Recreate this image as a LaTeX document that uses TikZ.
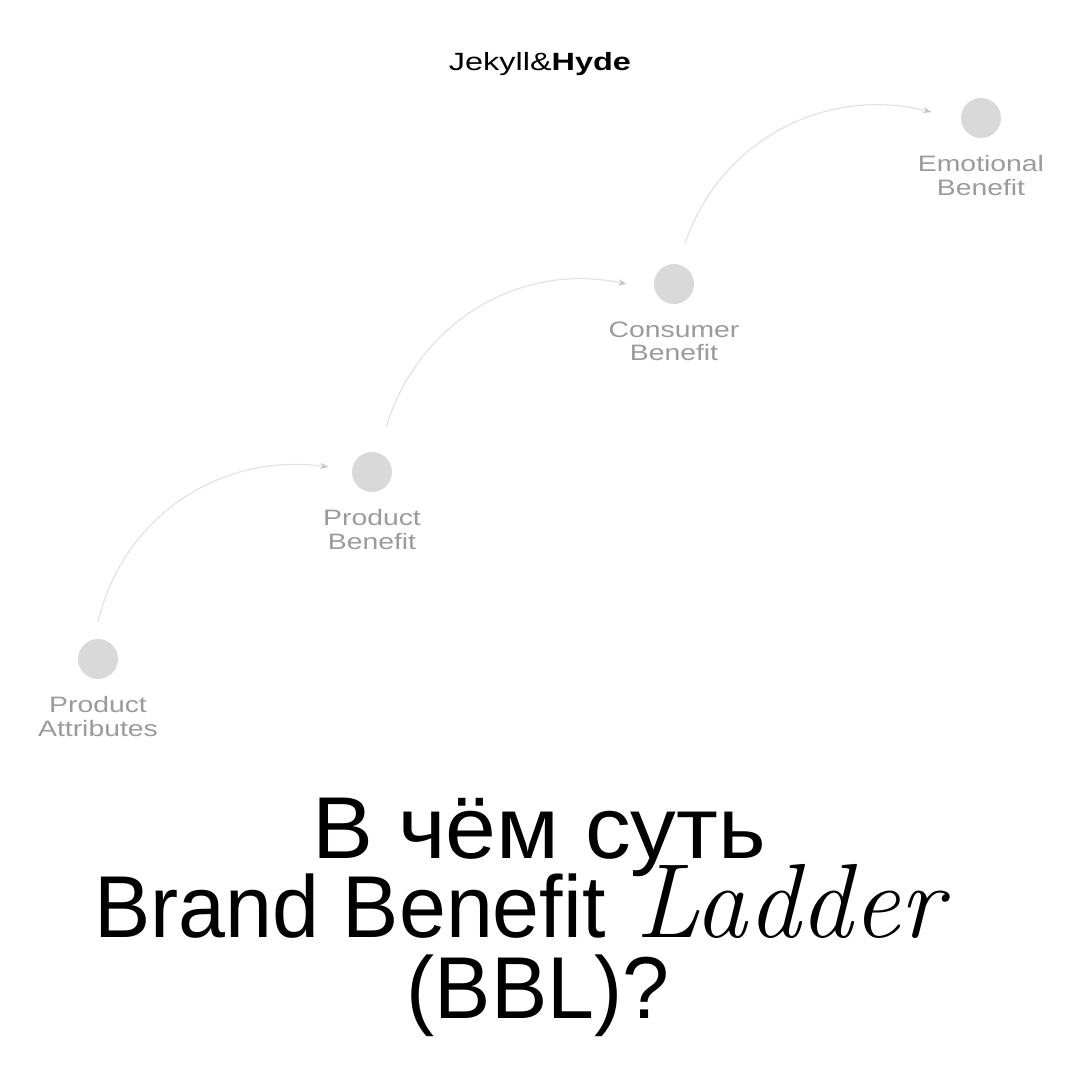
\documentclass[tikz,border=0pt]{standalone}
\usepackage{fontspec}
\setsansfont{Liberation Sans}
\newfontfamily\titlefont[FakeStretch=0.96]{Liberation Sans}
\newfontfamily\cyrtitlefont[FakeStretch=1.04]{Liberation Sans}
\newfontfamily\stepfont[FakeStretch=1.27]{Liberation Sans}
\newfontfamily\logofont[FakeStretch=1.3]{Liberation Sans}
\usetikzlibrary{arrows.meta,positioning}
\definecolor{dotgray}{HTML}{D9D9D9}
\definecolor{labelgray}{HTML}{9B9B9B}
\definecolor{arcgray}{HTML}{E0E0E0}
\definecolor{tipgray}{HTML}{C4C4C4}

\begin{document}
\begin{tikzpicture}[
    x=0.1mm, y=0.1mm,
    dot/.style={circle, fill=dotgray, minimum size=4mm, inner sep=0pt},
    steplabel/.style={font=\stepfont\fontsize{6.35}{6.8}\selectfont, text=labelgray, align=center, inner sep=0pt},
    title/.style={font=\titlefont\fontsize{25}{23}\selectfont, inner sep=0pt, anchor=base},
    arr/.style={-{Stealth[length=0.8mm, width=0.6mm, color=tipgray]}, draw=arcgray, line width=0.3pt}
  ]
    \fill[white] (0,0) rectangle (1080,-1080);
    \useasboundingbox (0,0) rectangle (1080,-1080);

    % logo
    \node[anchor=base, inner sep=0pt] (logo) at (540,-70) {\logofont\fontsize{7.1}{8}\selectfont Jekyll\&\textbf{Hyde}};

    % ladder steps
    \node[dot] (attr) at (98,-659) {};
    \node[dot] (prod) at (372,-472) {};
    \node[dot] (cons) at (674,-284) {};
    \node[dot] (emot) at (981,-118) {};
    \node[steplabel, below=1.6mm of attr] (attrlbl) {Product\\Attributes};
    \node[steplabel, below=1.6mm of prod] (prodlbl) {Product\\Benefit};
    \node[steplabel, below=1.6mm of cons] (conslbl) {Consumer\\Benefit};
    \node[steplabel, below=1.6mm of emot] (emotlbl) {Emotional\\Benefit};

    \draw[arr] ([yshift=1.6mm]attr.north) to[out=77, in=172] ([xshift=-2.3mm, yshift=0.5mm]prod.west);
    \draw[arr] ([xshift=1.4mm, yshift=2.4mm]prod.north) to[out=73, in=168] ([xshift=-2.7mm]cons.west);
    \draw[arr] ([xshift=1.1mm, yshift=2mm]cons.north) to[out=71, in=166] ([xshift=-2.9mm, yshift=0.6mm]emot.west);

    % title
    \node[title, font=\cyrtitlefont\fontsize{25}{23}\selectfont] (title1) at (539,-858) {В чём суть};
    \node[title] (title2) at (519,-937) {Brand Benefit \hspace{0.6mm}{\rmfamily\itshape\fontsize{30}{30}\selectfont Ladder}};
    \node[title] (title3) at (538,-1018) {(BBL)?};
\end{tikzpicture}
\end{document}
